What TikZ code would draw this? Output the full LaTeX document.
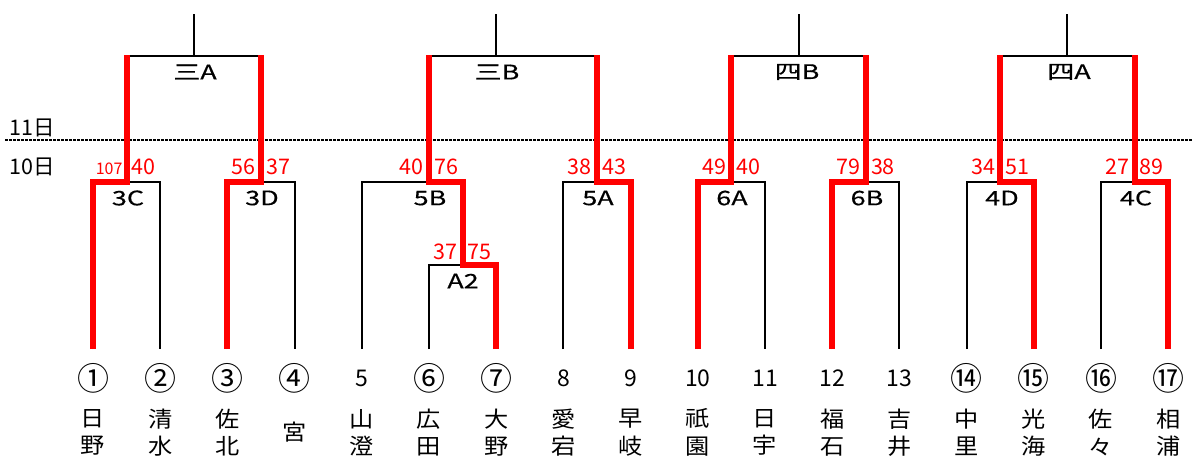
\documentclass[tikz,border=0pt]{standalone}
\usepackage{fontspec}
\usetikzlibrary{calc}
\setmainfont{Noto Sans CJK JP}
\newfontfamily\jp{Noto Sans CJK JP}
\newfontfamily\jpw[FakeStretch=1.35,FakeBold=0.4]{Noto Sans CJK JP}
\newfontfamily\jpn[FakeStretch=1.1]{Noto Sans CJK JP}
\begin{document}
\begin{tikzpicture}[x=1pt,y=-1pt,
  blk/.style={line width=2pt,black},
  win/.style={line width=6pt,red,line join=miter},
  scr/.style={red,inner sep=0pt,font=\jp\fontsize{21.5}{21.5}\selectfont},
  scrs/.style={red,inner sep=0pt,font=\jp\fontsize{16}{16}\selectfont},
  rnd/.style={inner sep=0pt,font=\jpw\fontsize{20}{20}\selectfont},
  num/.style={inner sep=0pt,font=\jp\fontsize{23}{23}\selectfont},
  cnum/.style={inner sep=0pt,font=\jp\fontsize{32}{32}\selectfont},
  nm/.style={inner sep=0pt,align=center,font=\jpn\fontsize{22}{27.5}\selectfont},
  day/.style={inner sep=0pt,font=\jp\fontsize{21.5}{21.5}\selectfont}]
\useasboundingbox (0,0) rectangle (1193,457);
% leaves
\foreach \i in {1,...,17} \coordinate (L\i) at ({93+67.2*(\i-1)},349);
% first-round match points
\coordinate (m3C) at (126.6,182);
\coordinate (m3D) at (261,182);
\coordinate (mA2) at (462.6,265);
\coordinate (m5B) at (429,182);
\coordinate (m5A) at (597,182);
\coordinate (m6A) at (731.4,182);
\coordinate (m6B) at (865.8,182);
\coordinate (m4D) at (1000.2,182);
\coordinate (m4C) at (1134.6,182);
% second-round stems
\coordinate (sA) at (193.8,56);  \coordinate (tA) at (193.8,14);
\coordinate (sB) at (496.2,56);  \coordinate (tB) at (496.2,14);
\coordinate (sC) at (798.6,56);  \coordinate (tC) at (798.6,14);
\coordinate (sD) at (1067.4,56); \coordinate (tD) at (1067.4,14);
% day separator
\coordinate (d0) at (5,140); \coordinate (d1) at (1193,140);
\draw[line width=2.5pt,dash pattern=on 2.7pt off 1.3pt] (d0) -- (d1);
\node[day] (day11) at (32,128) {11日};
\node[day] (day10) at (32,167) {10日};
% black bracket
\draw[blk] (L1) |- (m3C) -| (L2);
\draw[blk] (L3) |- (m3D) -| (L4);
\draw[blk] (L6) |- (mA2) -| (L7);
\draw[blk] (L5) |- (m5B) -| (mA2);
\draw[blk] (L8) |- (m5A) -| (L9);
\draw[blk] (L10) |- (m6A) -| (L11);
\draw[blk] (L12) |- (m6B) -| (L13);
\draw[blk] (L14) |- (m4D) -| (L15);
\draw[blk] (L16) |- (m4C) -| (L17);
\draw[blk] (m3C) |- (sA) -| (m3D);  \draw[blk] (sA) -- (tA);
\draw[blk] (m5B) |- (sB) -| (m5A);  \draw[blk] (sB) -- (tB);
\draw[blk] (m6A) |- (sC) -| (m6B);  \draw[blk] (sC) -- (tC);
\draw[blk] (m4D) |- (sD) -| (m4C);  \draw[blk] (sD) -- (tD);
% winners (red)
\draw[win,shorten >=-1pt] (L1) |- (m3C) -- (m3C |- sA);
\draw[win,shorten >=-1pt] (L3) |- (m3D) -- (m3D |- sA);
\draw[win,shorten >=-1pt] (L7) |- (mA2) |- (m5B) -- (m5B |- sB);
\draw[win,shorten >=-1pt] (L9) |- (m5A) -- (m5A |- sB);
\draw[win,shorten >=-1pt] (L10) |- (m6A) -- (m6A |- sC);
\draw[win,shorten >=-1pt] (L12) |- (m6B) -- (m6B |- sC);
\draw[win,shorten >=-1pt] (L15) |- (m4D) -- (m4D |- sD);
\draw[win,shorten >=-1pt] (L17) |- (m4C) -- (m4C |- sD);
% match labels
\node[rnd] (lA) at (195,72) {三A};
\node[rnd] (lB) at (497,72) {三B};
\node[rnd] (lC) at (797,72) {四B};
\node[rnd] (lD) at (1069,72) {四A};
\node[rnd] (l3C) at (128,198) {3C};
\node[rnd] (l3D) at (262,198) {3D};
\node[rnd] (l5B) at (430,198) {5B};
\node[rnd] (l5A) at (598,198) {5A};
\node[rnd] (l6A) at (732,198) {6A};
\node[rnd] (l6B) at (867,198) {6B};
\node[rnd] (l4D) at (1002,198) {4D};
\node[rnd] (l4C) at (1136,198) {4C};
\node[rnd] (lA2) at (463,281) {A2};
% scores
\node[scrs,anchor=east] (s3Ca) at (122.6,169) {107};
\node[scr,anchor=west] (s3Cb) at (131.6,167) {40};
\node[scr,anchor=east] (s3Da) at (256,167) {56};
\node[scr,anchor=west] (s3Db) at (266,167) {37};
\node[scr,anchor=east] (sA2a) at (457.6,251.5) {37};
\node[scr,anchor=west] (sA2b) at (467.6,251.5) {75};
\node[scr,anchor=east] (s5Ba) at (424,167) {40};
\node[scr,anchor=west] (s5Bb) at (434,167) {76};
\node[scr,anchor=east] (s5Aa) at (592,167) {38};
\node[scr,anchor=west] (s5Ab) at (602,167) {43};
\node[scr,anchor=east] (s6Aa) at (726.4,167) {49};
\node[scr,anchor=west] (s6Ab) at (736.4,167) {40};
\node[scr,anchor=east] (s6Ba) at (860.8,167) {79};
\node[scr,anchor=west] (s6Bb) at (870.8,167) {38};
\node[scr,anchor=east] (s4Da) at (995.2,167) {34};
\node[scr,anchor=west] (s4Db) at (1005.2,167) {51};
\node[scr,anchor=east] (s4Ca) at (1129.6,167) {27};
\node[scr,anchor=west] (s4Cb) at (1139.6,167) {89};
% leaf numbers
\foreach \i/\t/\s in {1/①/cnum,2/②/cnum,3/③/cnum,4/④/cnum,5/5/num,6/⑥/cnum,7/⑦/cnum,8/8/num,9/9/num,10/10/num,11/11/num,12/12/num,13/13/num,14/⑭/cnum,15/⑮/cnum,16/⑯/cnum,17/⑰/cnum}
  \node[\s] (n\i) at ($(L\i)+(0,29)$) {\t};
% names
\foreach \i/\t in {1/日\\野,2/清\\水,3/佐\\北,4/宮,5/山\\澄,6/広\\田,7/大\\野,8/愛\\宕,9/早\\岐,10/祇\\園,11/日\\宇,12/福\\石,13/吉\\井,14/中\\里,15/光\\海,16/佐\\々,17/相\\浦}
  \node[nm] (t\i) at ($(L\i)+(0,83.5)$) {\t};
\end{tikzpicture}
\end{document}
